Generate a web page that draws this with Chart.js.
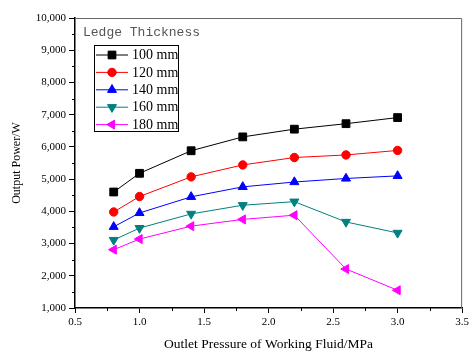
<!DOCTYPE html>
<html><head><meta charset="utf-8">
<script src="https://cdn.jsdelivr.net/npm/chart.js@4/dist/chart.umd.min.js"></script>
<style>html,body{margin:0;padding:0;background:#fff}#wrap{width:472px;height:353px}</style>
</head><body><div id="wrap"><canvas id="c"></canvas></div>
<script>
const pressures = [0.8, 1.0, 1.4, 1.8, 2.2, 2.6, 3.0];
const seriesNames = ['100 mm', '120 mm', '140 mm', '160 mm', '180 mm'];
const power100 = [4600, 5180, 5880, 6310, 6550, 6720, 6910];
const power120 = [3980, 4460, 5070, 5440, 5670, 5750, 5890];
const power140 = [3520, 3950, 4450, 4760, 4910, 5020, 5100];
const power160 = [3110, 3480, 3920, 4190, 4300, 3670, 3330];
const power180 = [2810, 3140, 3540, 3750, 3880, 2210, 1550];
const xTicks = [0.5, 1.0, 1.5, 2.0, 2.5, 3.0, 3.5];
const yTicks = [1000, 2000, 3000, 4000, 5000, 6000, 7000, 8000, 9000, 10000];
const legendTitle = 'Ledge Thickness';
const xTitle = 'Outlet Pressure of Working Fluid/MPa';
const yTitle = 'Output Power/W';

const allPower = [power100, power120, power140, power160, power180];
const colors = ['#000000', '#ff0000', '#0000ff', '#008080', '#ff00ff'];
const styles = ['rect', 'circle', 'triangle', 'triangle', 'triangle'];
const rotations = [0, 0, 0, 180, 270];
const radii = [5.5, 4.2, 5.2, 5.2, 5.2];

const datasets = allPower.map((vals, i) => ({
  label: seriesNames[i],
  data: vals.map((v, j) => ({x: pressures[j], y: v})),
  borderColor: colors[i],
  backgroundColor: colors[i],
  borderWidth: 1,
  pointStyle: styles[i],
  rotation: rotations[i],
  pointRadius: radii[i],
  pointHoverRadius: radii[i],
  pointBorderWidth: 1,
  tension: 0
}));

const serif = "'Liberation Serif', 'Times New Roman', serif";

const extras = {
  id: 'extras',
  afterDraw(chart) {
    const ctx = chart.ctx;
    const a = chart.chartArea;
    const xs = chart.scales.x, ys = chart.scales.y;
    ctx.save();
    ctx.strokeStyle = '#666';
    ctx.lineWidth = 1;
    ctx.beginPath();
    ctx.moveTo(a.left, a.top + 0.5); ctx.lineTo(a.right - 0.5, a.top + 0.5); ctx.lineTo(a.right - 0.5, a.bottom);
    ctx.stroke();
    ctx.strokeStyle = '#000';
    ctx.beginPath();
    for (let i = 0; i < xTicks.length - 1; i++) {
      const v = (xTicks[i] + xTicks[i + 1]) / 2;
      const px = Math.round(xs.getPixelForValue(v)) + 0.5;
      ctx.moveTo(px, a.bottom); ctx.lineTo(px, a.bottom + 3);
    }
    for (let i = 0; i < yTicks.length - 1; i++) {
      const v = (yTicks[i] + yTicks[i + 1]) / 2;
      const py = Math.round(ys.getPixelForValue(v)) + 0.5;
      ctx.moveTo(a.left, py); ctx.lineTo(a.left - 3, py);
    }
    ctx.stroke();
    ctx.fillStyle = '#555';
    ctx.font = "13px 'Liberation Mono', 'DejaVu Sans Mono', monospace";
    ctx.textBaseline = 'middle';
    ctx.textAlign = 'left';
    ctx.fillText(legendTitle, 83, 33);
    const bx = 94.5, by = 45.5, bw = 84, bh = 86;
    ctx.fillStyle = '#fff';
    ctx.fillRect(bx, by, bw, bh);
    ctx.strokeStyle = '#000';
    ctx.lineWidth = 1;
    ctx.strokeRect(bx, by, bw, bh);
    const rowH = 17.4;
    chart.data.datasets.forEach((ds, i) => {
      const cy = 55 + i * rowH;
      ctx.strokeStyle = ds.borderColor;
      ctx.lineWidth = 1;
      ctx.beginPath();
      ctx.moveTo(96, cy); ctx.lineTo(128, cy);
      ctx.stroke();
      ctx.fillStyle = ds.backgroundColor;
      Chart.helpers.drawPoint(ctx, {pointStyle: ds.pointStyle, rotation: ds.rotation, radius: ds.pointRadius, borderWidth: 1}, 112, cy);
      ctx.fillStyle = '#000';
      ctx.font = '14px ' + serif;
      ctx.textBaseline = 'middle';
      ctx.fillText(ds.label, 132, cy + 0.5);
    });
    ctx.restore();
  }
};

new Chart(document.getElementById('c'), {
  type: 'line',
  data: {datasets},
  plugins: [extras],
  options: {
    responsive: true,
    maintainAspectRatio: false,
    animation: false,
    events: [],
    layout: {padding: {top: 18, right: 5, left: 0, bottom: 0}},
    plugins: {legend: {display: false}, tooltip: {enabled: false}},
    scales: {
      x: {
        type: 'linear', min: 0.5, max: 3.5,
        afterFit(s) { s.height = 45; },
        afterBuildTicks(s) { s.ticks = xTicks.map(v => ({value: v})); },
        ticks: {color: '#000', font: {family: serif, size: 11}, padding: 3, maxRotation: 0,
          callback: v => Number(v).toFixed(1)},
        grid: {drawOnChartArea: false, tickLength: 5, color: '#000', tickWidth: 1},
        border: {color: '#000', width: 1.5},
        title: {display: true, text: xTitle, color: '#000', font: {family: serif, size: 13.5}, padding: {top: 0, bottom: 0}}
      },
      y: {
        type: 'linear', min: 1000, max: 10000,
        afterFit(s) { s.width = 75; },
        afterBuildTicks(s) { s.ticks = yTicks.map(v => ({value: v})); },
        ticks: {color: '#000', font: {family: serif, size: 11}, padding: 3,
          callback: v => Number(v).toLocaleString('en-US')},
        grid: {drawOnChartArea: false, tickLength: 6, color: '#000', tickWidth: 1},
        border: {color: '#000', width: 1.5},
        title: {display: true, text: yTitle, color: '#000', font: {family: serif, size: 12}, padding: {top: 10, bottom: 0}}
      }
    }
  }
});
</script>
</body></html>
